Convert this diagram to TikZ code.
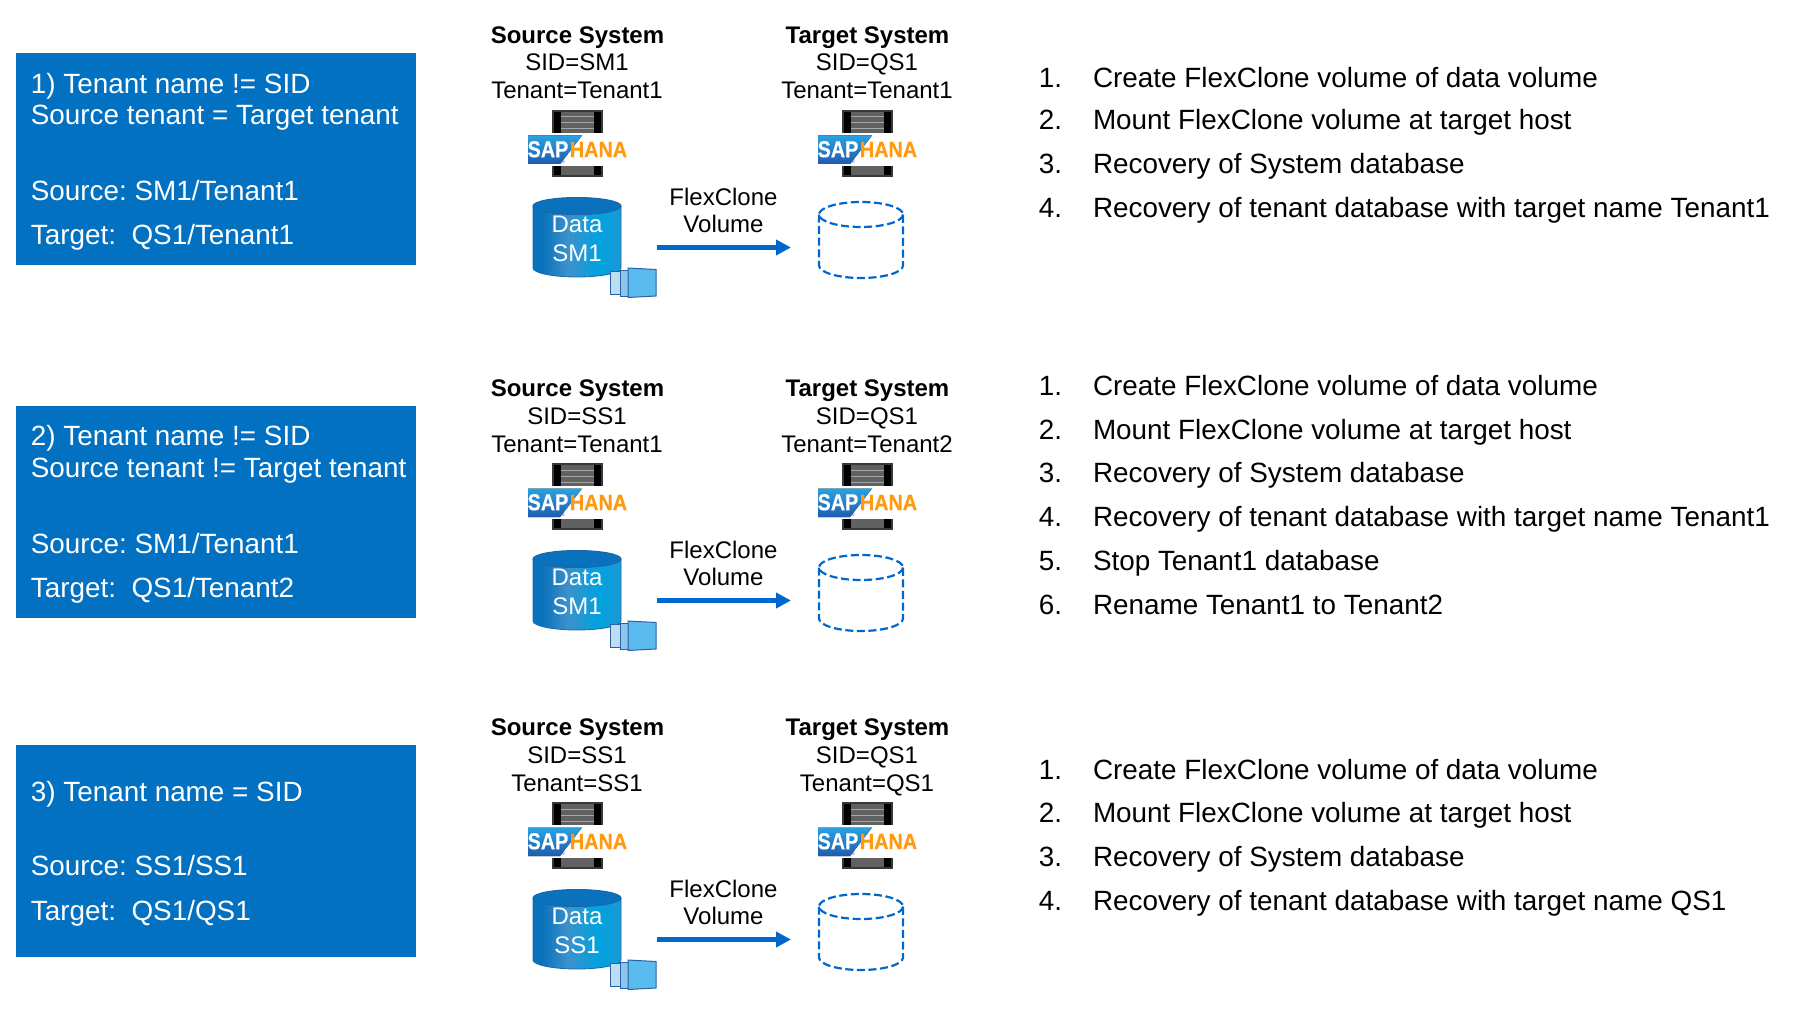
\documentclass[tikz,border=0pt]{standalone}
\usepackage{fontspec}
\setmainfont{Liberation Sans}
\newfontfamily\logofont[FakeBold=0.5]{Liberation Sans Bold}
\frenchspacing
\usetikzlibrary{arrows.meta}
\definecolor{boxblue}{HTML}{0371C1}
\definecolor{flexblue}{HTML}{0068CC}
\definecolor{hanaorange}{HTML}{FF9A0E}
\definecolor{sapLight}{HTML}{2AA2E2}
\definecolor{sapDark}{HTML}{1E5CB0}
\definecolor{dbEdge}{HTML}{0870B8}
\definecolor{dbLeft}{HTML}{0A72BC}
\definecolor{dbPale}{HTML}{3C92CA}
\definecolor{dbCyan}{HTML}{00A2E0}
\definecolor{dbRight}{HTML}{3092CE}
\definecolor{dbLine}{HTML}{1A66A8}
\definecolor{pageA}{HTML}{BDDDF5}
\definecolor{pageB}{HTML}{8FC6EE}
\definecolor{pageC}{HTML}{5BBAEE}
\definecolor{pageLine}{HTML}{2A62A8}
\pgfdeclarehorizontalshading{dbshade}{100bp}{
  color(0bp)=(dbEdge);color(30bp)=(dbLeft);color(45bp)=(dbPale);
  color(62bp)=(dbCyan);color(85bp)=(dbRight);color(100bp)=(dbEdge)}
\tikzset{
  casebox/.style={fill=boxblue,draw=none},
  casetext/.style={anchor=base west,text=white,font=\fontsize{13.93}{16}\selectfont,inner sep=0pt},
  steptext/.style={anchor=base west,font=\fontsize{13.93}{16}\selectfont,inner sep=0pt},
  syslabel/.style={anchor=base,font=\fontsize{12}{14}\selectfont,inner sep=0pt},
  syshead/.style={anchor=base,font=\fontsize{12}{14}\selectfont\bfseries,inner sep=0pt},
  dblabel/.style={anchor=base,text=white,font=\fontsize{12}{14}\selectfont,inner sep=0pt},
  pics/hanaicon/.style={code={
    \fill [black!78] (0,0) rectangle (51,67);
    \fill [black] (2,2) rectangle (49,65);
    \fill [black!62] (9,2) rectangle (42,65);
    \foreach \ly in {7,13,19}
      \draw [black!35,line width=0.5pt] (9,\ly) -- (42,\ly);
    \fill [white] (-24,23) rectangle (75,56);
    \fill [top color=sapLight,bottom color=sapDark] (-24,25.5) -- (30,25.5) -- (8,54) -- (-24,54) -- cycle;
    \node (-sap) [text=white,inner sep=0pt,text height=8.2pt,text depth=0pt,font=\fontsize{11.5}{12}\logofont] at (-4,39) {\scalebox{.86}[1]{SAP}};
    \node (-hana) [text=hanaorange,inner sep=0pt,font=\fontsize{11}{12}\logofont] at (46.5,39.5) {\scalebox{.9}[1]{HANA}};
    \node (-reg) [text=blue!40!gray,inner sep=0pt,font=\fontsize{2.5}{3}\selectfont] at (11,52) {®};
  }},
  pics/srcdb/.style={code={
    \shade [shading=dbshade] (0,9) -- (0,71) arc[start angle=180,end angle=0,x radius=44,y radius=9] -- (88,9) -- cycle;
    \draw [dbLine,line width=0.4pt] (0,9) -- (0,71) arc[start angle=180,end angle=0,x radius=44,y radius=9] -- (88,9);
    \draw [fill=dbLeft,draw=dbLine,line width=0.5pt] (44,9) ellipse[x radius=44,y radius=8.5];
    \draw [fill=pageA,draw=pageLine,line width=0.4pt] (77,74) rectangle (87,97);
    \draw [fill=pageB,draw=pageLine,line width=0.4pt] (87,73) rectangle (96,99);
    \draw [fill=pageC,draw=pageLine,line width=0.5pt] (95,71) -- (123,72.5) -- (123,99) -- (95,100.5) -- cycle;
  }},
  pics/tgtdb/.style={code={
    \draw [flexblue,line width=1.1pt,dash pattern=on 4pt off 1.8pt] (0,12.5) -- (0,63.5) arc[start angle=180,end angle=0,x radius=42,y radius=12.5] -- (84,12.5);
    \draw [flexblue,line width=1.1pt,dash pattern=on 4pt off 1.8pt] (42,12.5) ellipse[x radius=42,y radius=12.5];
  }},
}
\begin{document}
\begin{tikzpicture}[x=0.5pt,y=-0.5pt]
  \useasboundingbox (0,0) rectangle (1794,1011);
  %blue case boxes
  \fill [casebox] (16,53) rectangle (416,265);
  \fill [casebox] (16,405.7) rectangle (416,617.7);
  \fill [casebox] (16,744.7) rectangle (416,957.3);
  \node (case1a) [casetext] at (30.5,93.3) {1) Tenant name != SID};
  \node (case1b) [casetext] at (30.5,124.7) {Source tenant = Target tenant};
  \node (case1c) [casetext] at (30.5,200) {Source: SM1/Tenant1};
  \node (case1d) [casetext] at (30.5,244.3) {Target:\ \ QS1/Tenant1};
  \node (case2a) [casetext] at (30.5,445) {2) Tenant name != SID};
  \node (case2b) [casetext] at (30.5,477) {Source tenant != Target tenant};
  \node (case2c) [casetext] at (30.5,553.7) {Source: SM1/Tenant1};
  \node (case2d) [casetext] at (30.5,597.7) {Target:\ \ QS1/Tenant2};
  \node (case3a) [casetext] at (30.5,801.7) {3) Tenant name = SID};
  \node (case3b) [casetext] at (30.5,875.7) {Source: SS1/SS1};
  \node (case3c) [casetext] at (30.5,920) {Target:\ \ QS1/QS1};
  %systems of each row
  \foreach \r/\dy/\srcsid/\srcten/\tgtten/\dbname in {1/0/SM1/Tenant1/Tenant1/SM1,2/353/SS1/Tenant1/Tenant2/SM1,3/692/SS1/SS1/QS1/SS1}{
    \node (srchead\r) [syshead] at (577.5,43.3+\dy) {Source System};
    \node (srcsid\r) [syslabel] at (577,71+\dy) {SID=\srcsid};
    \node (srcten\r) [syslabel] at (577,99+\dy) {Tenant=\srcten};
    \node (tgthead\r) [syshead] at (867.5,43.3+\dy) {Target System};
    \node (tgtsid\r) [syslabel] at (867,71+\dy) {SID=QS1};
    \node (tgtten\r) [syslabel] at (867,99+\dy) {Tenant=\tgtten};
    \pic (srchana\r) at (552,110+\dy) {hanaicon};
    \pic (tgthana\r) at (842,110+\dy) {hanaicon};
    \pic (srcdb\r) at (533,197+\dy) {srcdb};
    \pic (tgtdb\r) at (819,202+\dy) {tgtdb};
    \node (dbtop\r) [dblabel] at (577,232.7+\dy) {Data};
    \node (dbbot\r) [dblabel] at (577,261.7+\dy) {\dbname};
    \node (flexa\r) [syslabel] at (723.5,205.7+\dy) {FlexClone};
    \node (flexb\r) [syslabel] at (723.5,232+\dy) {Volume};
    \coordinate (arrowfrom\r) at (657,247.5+\dy);
    \coordinate (arrowto\r) at (791,247.5+\dy);
    \draw [flexblue,line width=2.5pt,-{Triangle[length=7.5pt,width=7.5pt]}] (arrowfrom\r) -- (arrowto\r);
  }
  %step lists
  \foreach \n/\y/\txt in {1/87.7/Create FlexClone volume of data volume,2/129.7/Mount FlexClone volume at target host,3/173.2/Recovery of System database,4/217/Recovery of tenant database with target name Tenant1}{
    \node (stepnuma\n) [steptext] at (1038.5,\y) {\n.};
    \node (stepa\n) [steptext] at (1092.6,\y) {\txt};
  }
  \foreach \n/\y/\txt in {1/395.5/Create FlexClone volume of data volume,2/439.2/Mount FlexClone volume at target host,3/482.8/Recovery of System database,4/526.8/Recovery of tenant database with target name Tenant1,5/570.2/Stop Tenant1 database,6/614.8/Rename Tenant1 to Tenant2}{
    \node (stepnumb\n) [steptext] at (1038.5,\y) {\n.};
    \node (stepb\n) [steptext] at (1092.6,\y) {\txt};
  }
  \foreach \n/\y/\txt in {1/779/Create FlexClone volume of data volume,2/822.3/Mount FlexClone volume at target host,3/866.3/Recovery of System database,4/910.7/Recovery of tenant database with target name QS1}{
    \node (stepnumc\n) [steptext] at (1038.5,\y) {\n.};
    \node (stepc\n) [steptext] at (1092.6,\y) {\txt};
  }
\end{tikzpicture}
\end{document}
